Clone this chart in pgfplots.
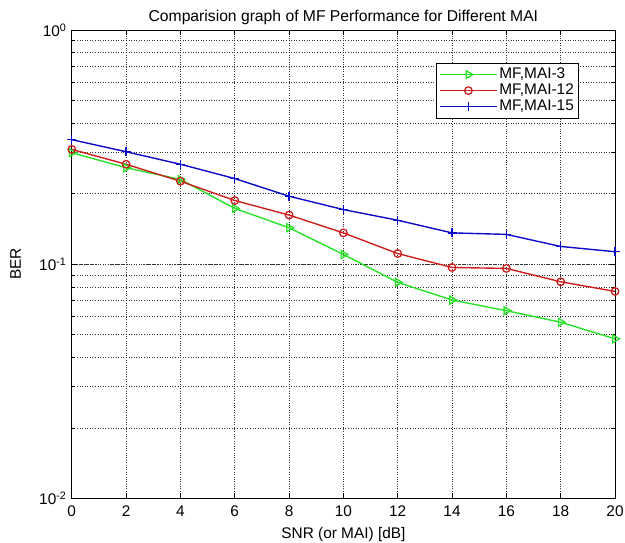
\documentclass[border=0pt]{standalone}
\usepackage{pgfplots}
\pgfplotsset{compat=1.18}
\usepackage{fontspec}
\setmainfont{Liberation Sans}
\definecolor{mgreen}{RGB}{40,225,40}
\definecolor{mred}{RGB}{205,30,30}
\definecolor{mblue}{RGB}{10,10,200}
\begin{document}
\fontsize{15.5}{18}\selectfont
\begin{tikzpicture}
\begin{axis}[
  scale only axis,
  width=545bp, height=470bp,
  ymode=log,
  xmin=0, xmax=20, ymin=0.01, ymax=1,
  xtick={0,2,...,20},
  ytick={0.01,0.1,1},
  yticklabels={10\textsuperscript{-2},10\textsuperscript{-1},10\textsuperscript{0}},
  /pgf/number format/assume math mode=true,
  tick label style={font=\fontsize{15.5}{18}\selectfont},
  xticklabel style={yshift=-2bp},
  label style={font=\fontsize{15.5}{18}\selectfont},
  title style={font=\fontsize{15.8}{18}\selectfont, yshift=-6bp},
  grid=both,
  grid style={dotted, black!80, line width=0.6pt},
  minor grid style={dotted, black!80, line width=0.6pt},
  major tick length=5bp, minor tick length=3bp,
  tick style={black, line width=0.6pt},
  axis line style={line width=0.8pt},
  title={Comparision graph of MF Performance for Different MAI},
  xlabel={SNR (or MAI) [dB]},
  ylabel={BER},
  xlabel style={yshift=0bp},
  ylabel style={yshift=8bp},
  legend style={at={(0.934,0.93)}, anchor=north east, draw=black, line width=0.8pt,
    font=\fontsize{15.5}{18}\selectfont, row sep=-1bp, inner sep=3bp},
  legend cell align=left,
  legend image code/.code={\draw[mark repeat=2,mark phase=2] plot coordinates {(0cm,0cm)(1cm,0cm)(2cm,0cm)};},
  legend image post style={line width=1.5pt},
]
\addplot[mgreen, line width=1.4pt, mark=triangle, mark options={rotate=-90, solid, line width=1.3pt}, mark size=4.5bp]
coordinates {(0,0.299)(2,0.258)(4,0.230)(6,0.173)(8,0.143)(10,0.110)(12,0.0836)(14,0.0703)(16,0.0633)(18,0.0565)(20,0.048)};
\addlegendentry{MF,MAI-3}
\addplot[mred, line width=1.4pt, mark=o, mark options={solid, line width=1.3pt}, mark size=3.8bp]
coordinates {(0,0.309)(2,0.267)(4,0.226)(6,0.187)(8,0.162)(10,0.136)(12,0.111)(14,0.0968)(16,0.0959)(18,0.0841)(20,0.0765)};
\addlegendentry{MF,MAI-12}
\addplot[mblue, line width=1.4pt, mark=+, mark options={solid, line width=1.3pt}, mark size=4.5bp]
coordinates {(0,0.340)(2,0.302)(4,0.267)(6,0.232)(8,0.195)(10,0.171)(12,0.154)(14,0.136)(16,0.134)(18,0.119)(20,0.113)};
\addlegendentry{MF,MAI-15}
\end{axis}
\pgfresetboundingbox
\path ([xshift=-72bp,yshift=-44bp]current axis.south west) rectangle ([xshift=10bp,yshift=30bp]current axis.north east);
\end{tikzpicture}
\end{document}
